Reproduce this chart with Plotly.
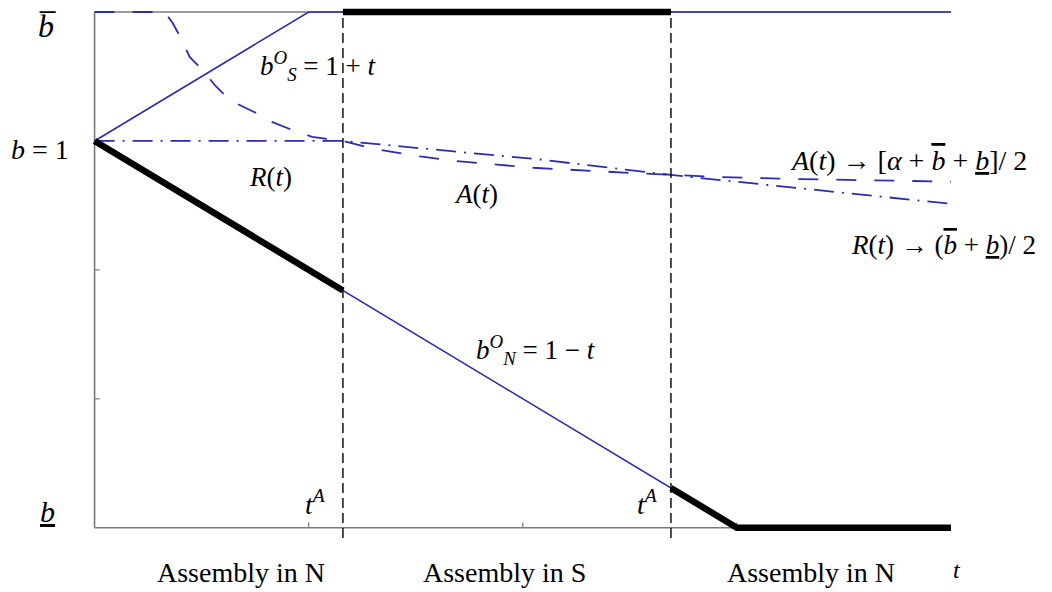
import plotly.graph_objects as go

# --- values (t on x, bid level b on y) ---
B_LOW, B_ONE, B_BAR = 0.25, 1.0, 1.25
T_A = [0.29, 0.673]                       # the two t^A thresholds

BS_T = [0.0, 0.25, 1.0]                   # b_S^O = 1 + t, capped at b-bar
BS_Y = [1.0, 1.25, 1.25]
BN_T = [0.0, 0.75, 1.0]                   # b_N^O = 1 - t, floored at b-underline
BN_Y = [1.0, 0.25, 0.25]

A_T = [0.0, 0.082, 0.091, 0.102, 0.111, 0.128, 0.141, 0.158, 0.189, 0.207,
       0.231, 0.254, 0.29, 0.325, 0.38, 0.423, 0.47, 0.512, 0.637, 0.673,
       0.73, 0.824, 1.0]
A_Y = [1.25, 1.25, 1.229, 1.196, 1.163, 1.134, 1.107, 1.079, 1.054, 1.037,
       1.021, 1.008, 1.0, 0.985, 0.970, 0.961, 0.954, 0.948, 0.937, 0.934,
       0.930, 0.926, 0.921]
R_T = [0.0, 0.29, 0.52, 0.673, 1.0]
R_Y = [1.0, 1.0, 0.964, 0.934, 0.878]

# equilibrium path (thick black)
PATH = [
    ([0.0, 0.29], [1.0, 0.71]),
    ([0.29, 0.673], [1.25, 1.25]),
    ([0.673, 0.75, 1.0], [0.327, 0.25, 0.25]),
]

Y_TICKS = [0.25, 0.5, 0.75, 1.0, 1.25]
Y_TICK_TEXT = ["<u><i>b</i></u>", "", "", "<i>b</i> = 1", "<i>b\u0305</i>"]
X_TICKS = [0.25, 0.5, 0.75]
REGIONS = ["Assembly in N", "Assembly in S", "Assembly in N"]

BLUE = "#2b2bb8"
GREY = "#7a7a7a"
SERIF = "Liberation Serif"
X_RANGE = [-0.01, 1.0]
Y_RANGE = [0.23, 1.2578]

OB = "<span style='text-decoration:overline'><i>b</i></span>"
UB = "<u><i>b</i></u>"

fig = go.Figure()

# axes frame drawn in data space
frame = [([0, 0], [B_LOW, B_BAR]), ([0, 1], [B_LOW, B_LOW]), ([0, 1], [B_BAR, B_BAR])]
for fx, fy in frame:
    fig.add_trace(go.Scatter(x=fx, y=fy, mode="lines",
                             line={"color": GREY, "width": 1.6}, hoverinfo="skip"))
for yt in Y_TICKS[1:-1]:
    fig.add_trace(go.Scatter(x=[0, 0.006], y=[yt, yt], mode="lines",
                             line={"color": GREY, "width": 1.2}, hoverinfo="skip"))
for xt in X_TICKS:
    fig.add_trace(go.Scatter(x=[xt, xt], y=[B_LOW, B_LOW + 0.01], mode="lines",
                             line={"color": GREY, "width": 1.2}, hoverinfo="skip"))

# blue curves
fig.add_trace(go.Scatter(x=BS_T, y=BS_Y, mode="lines", line={"color": BLUE, "width": 1.6}))
fig.add_trace(go.Scatter(x=BN_T, y=BN_Y, mode="lines", line={"color": BLUE, "width": 1.6}))
fig.add_trace(go.Scatter(x=A_T, y=A_Y, mode="lines",
                         line={"color": BLUE, "width": 1.8, "dash": "20px,18px"}))
fig.add_trace(go.Scatter(x=R_T, y=R_Y, mode="lines",
                         line={"color": BLUE, "width": 1.8, "dash": "20px,8px,2px,8px"}))

# thick equilibrium path
for px_, py_ in PATH:
    fig.add_trace(go.Scatter(x=px_, y=py_, mode="lines",
                             line={"color": "black", "width": 6.5}))

# t^A thresholds
for ta in T_A:
    fig.add_trace(go.Scatter(x=[ta, ta], y=[Y_RANGE[0], B_BAR], mode="lines",
                             line={"color": "black", "width": 1.4, "dash": "10px,5px"}))

font = {"family": SERIF, "color": "black"}
ann = []


def note(x, y, text, size=27, **kw):
    # data coords -> paper coords so labels outside the axes still show
    xp = (x - X_RANGE[0]) / (X_RANGE[1] - X_RANGE[0])
    yp = (y - Y_RANGE[0]) / (Y_RANGE[1] - Y_RANGE[0])
    ann.append(dict(x=xp, y=yp, xref="paper", yref="paper", text=text,
                    xanchor="center", yanchor="middle",
                    showarrow=False, font={**font, "size": size}, **kw))


# y labels
note(-0.055, 0.281, Y_TICK_TEXT[0], 30)
note(-0.064, 0.983, Y_TICK_TEXT[3], 28)
note(-0.055, 1.222, Y_TICK_TEXT[4], 32)

# region labels and t
for xr, lab in zip([0.171, 0.479, 0.836], REGIONS):
    note(xr, 0.163, lab, 28)
note(1.007, 0.167, "<i>t</i>", 24)

# curve labels
note(0.262, 1.145, "<i>b</i><sup><i>O</i></sup><sub><i>S</i></sub> = 1 + <i>t</i>")
note(0.516, 0.595, "<i>b</i><sup><i>O</i></sup><sub><i>N</i></sub> = 1 − <i>t</i>")
note(0.206, 0.930, "<i>R</i>(<i>t</i>)")
note(0.445, 0.897, "<i>A</i>(<i>t</i>)")
note(0.950, 0.963, f"<i>A</i>(<i>t</i>) → [<i>α</i> + {OB} + {UB}]/ 2", 28)
note(0.991, 0.798, f"<i>R</i>(<i>t</i>) → ({OB} + {UB})/ 2")
for ta, xl in zip(T_A, [0.258, 0.646]):
    note(xl, 0.298, "<i>t</i><sup><i>A</i></sup>", 28)

fig.update_layout(
    width=1052, height=592,
    margin={"l": 78, "r": 109, "t": 0, "b": 62},
    paper_bgcolor="white", plot_bgcolor="white",
    showlegend=False,
    annotations=ann,
)
fig.update_xaxes(range=X_RANGE, visible=False)
fig.update_yaxes(range=Y_RANGE, visible=False)

fig.write_html("out.html")
